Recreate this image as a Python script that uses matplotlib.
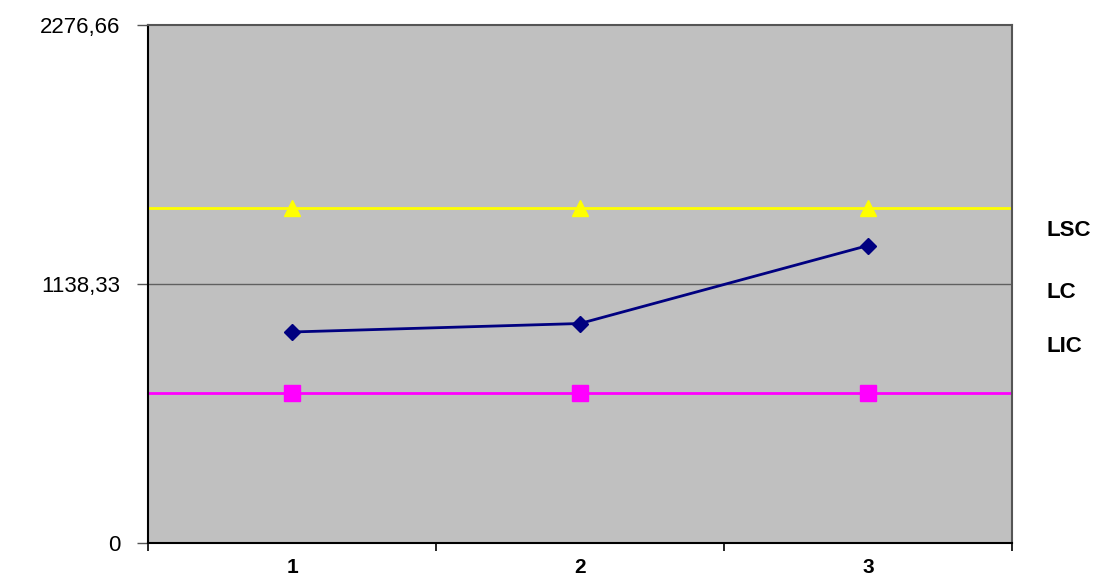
import matplotlib
matplotlib.use("Agg")
import matplotlib.pyplot as plt
from matplotlib.ticker import FixedLocator, NullFormatter

plt.rcParams['font.family'] = ['Liberation Sans', 'DejaVu Sans']

# Control chart data
categories = ["1", "2", "3"]
values = [927.4, 964.7, 1307.5]
lsc = [1472.3, 1472.3, 1472.3]
lic = [657.1, 657.1, 657.1]
y_max = 2276.66
y_ticks = [0, 1138.33, 2276.66]
y_tick_labels = ["0", "1138,33", "2276,66"]
legend_labels = ["LSC", "LC", "LIC"]

fig = plt.figure(figsize=(11.06, 5.78), dpi=100)
ax = fig.add_axes([148 / 1106, 1 - 543 / 578, (1012 - 148) / 1106, (543 - 25) / 578])
ax.set_facecolor("#c0c0c0")

xpos = [i + 0.5 for i in range(len(categories))]
ax.set_xlim(0, len(categories))
ax.set_ylim(0, y_max)

# horizontal gridline at the middle tick
ax.axhline(y_ticks[1], color="#606060", lw=1.0, zorder=1)

# control limits span the whole plot width
ax.axhline(lsc[0], color="#ffff00", lw=2.0, zorder=2)
ax.plot(xpos, lsc, ls="none", marker="^", ms=11, color="#ffff00", zorder=3)
ax.axhline(lic[0], color="#ff00ff", lw=2.0, zorder=2)
ax.plot(xpos, lic, ls="none", marker="s", ms=11, color="#ff00ff", zorder=3)

# measured series
ax.plot(xpos, values, color="#000080", lw=2.0, marker="D", ms=8, zorder=4)

# spines
for side in ("left", "bottom"):
    ax.spines[side].set_color("black")
    ax.spines[side].set_linewidth(1.5)
for side in ("top", "right"):
    ax.spines[side].set_color("#555555")
    ax.spines[side].set_linewidth(1.5)

# y axis
ax.set_yticks(y_ticks)
ax.set_yticklabels(y_tick_labels, fontsize=16)
ax.tick_params(axis="y", direction="out", length=8, width=1, color="#555555", pad=12)

# x axis: tick marks between categories, labels centered on categories
ax.xaxis.set_major_locator(FixedLocator(range(len(categories) + 1)))
ax.xaxis.set_major_formatter(NullFormatter())
ax.set_xticks(xpos, minor=True)
ax.set_xticklabels(categories, minor=True, fontsize=15, fontweight="bold")
ax.tick_params(axis="x", which="major", direction="out", length=6, width=1.2, color="black")
ax.tick_params(axis="x", which="minor", length=0, pad=11)

# legend labels at the right
for label, ypix in zip(legend_labels, [230, 292, 346]):
    fig.text(1047 / 1106, 1 - ypix / 578, label, fontsize=16, fontweight="bold",
             ha="left", va="center")

fig.savefig("out.png", dpi=100)
